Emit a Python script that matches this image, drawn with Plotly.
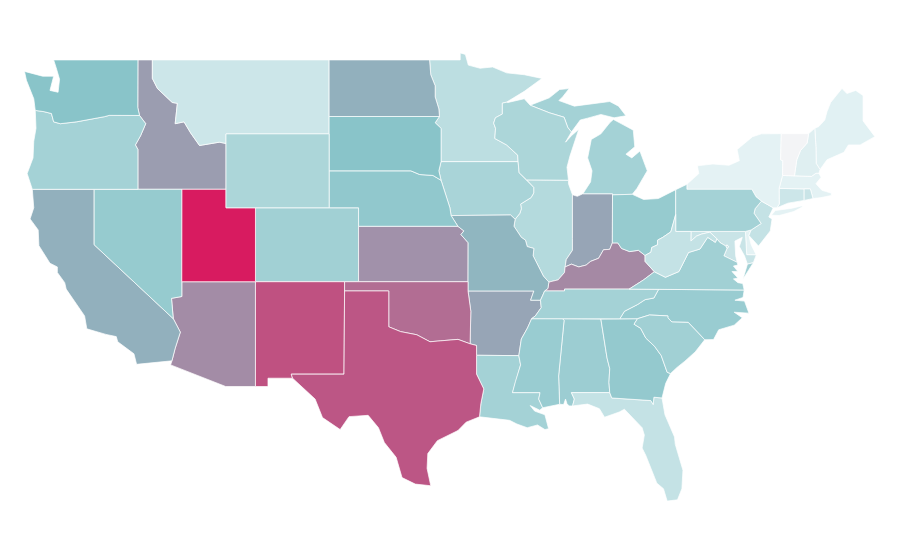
import plotly.graph_objects as go
from plotly.colors import sample_colorscale

states = ['AL','AZ','AR','CA','CO','CT','DE','DC','FL','GA','ID','IL','IN','IA','KS','KY','LA','ME','MD','MA',
          'MI','MN','MS','MO','MT','NE','NV','NH','NJ','NM','NY','NC','ND','OH','OK','OR','PA','RI','SC','SD',
          'TN','TX','UT','VT','VA','WA','WV','WI','WY']
values = [33,60,51,47,31,15,6,16,18,36,54,24,51,28,58,61,30,7,16,6,
          30,21,34,45,15,37,35,8,18,81,6,34,47,35,71,30,30,16,31,40,
          30,79,100,0,31,40,18,27,27]

colorscale = [[0, '#f3f4f6'], [0.06, '#e4f2f4'], [0.4, '#89c4c9'], [1, '#d81b60']]

# bordes compartidos (lon, lat), de norte a sur o de oeste a este
mn_wi = [(-92.02,46.71),(-92.29,46.66),(-92.29,46.07),(-92.76,45.87),(-92.88,45.58),(-92.75,45.3),(-92.8,44.75),(-92.0,44.4),(-91.25,43.85),(-91.22,43.5)]
ia_wi = [(-91.22,43.5),(-91.15,42.9),(-90.64,42.51)]
ia_il = [(-90.64,42.51),(-90.16,42.1),(-90.16,41.8),(-90.34,41.55),(-91.05,41.2),(-91.0,40.95),(-91.1,40.7),(-91.42,40.38)]
mo_il = [(-91.42,40.38),(-91.5,40.0),(-91.0,39.4),(-90.72,39.25),(-90.6,38.9),(-90.15,38.8),(-90.2,38.4),(-89.9,37.95),(-89.5,37.3),(-89.13,36.98)]
mo_ky = [(-89.13,36.98),(-89.2,36.63),(-89.42,36.5)]
mo_tn = [(-89.42,36.5),(-89.55,36.25),(-89.7,36.0)]
ar_tn = [(-89.7,36.0),(-89.65,35.6),(-90.05,35.15),(-90.3,35.0)]
ar_ms = [(-90.3,35.0),(-90.58,34.5),(-91.0,33.9),(-91.17,33.0)]
la_ms = [(-91.17,33.0),(-91.05,32.5),(-91.4,31.6),(-91.6,31.0),(-89.73,31.0),(-89.82,30.65),(-89.55,30.18)]
il_ky = [(-89.13,36.98),(-88.5,37.1),(-88.07,37.5),(-88.03,37.8)]
in_ky = [(-88.03,37.8),(-87.6,37.95),(-87.1,37.8),(-86.6,37.9),(-86.3,38.1),(-85.75,38.27),(-85.42,38.73),(-85.0,38.75),(-84.82,39.1)]
oh_ky = [(-84.82,39.1),(-84.45,39.1),(-84.2,38.8),(-83.65,38.63),(-83.05,38.7),(-82.6,38.42)]
oh_wv = [(-82.6,38.42),(-82.2,38.6),(-82.15,38.85),(-81.75,39.0),(-81.75,39.25),(-81.4,39.4),(-80.85,39.7),(-80.65,40.2),(-80.52,40.64)]
il_in = [(-88.03,37.8),(-87.95,38.2),(-87.53,38.7),(-87.53,39.35),(-87.53,41.71)]
ky_wv = [(-82.6,38.42),(-82.6,38.1),(-81.97,37.54)]
ky_va = [(-81.97,37.54),(-82.7,37.1),(-83.68,36.6)]
ky_tn = [(-83.68,36.6),(-88.07,36.6),(-88.07,36.5),(-89.42,36.5)]
va_tn = [(-83.68,36.6),(-81.68,36.59)]
va_nc = [(-81.68,36.59),(-75.87,36.55)]
tn_nc = [(-81.68,36.59),(-82.0,36.12),(-82.6,36.03),(-83.1,35.77),(-84.0,35.4),(-84.32,34.99)]
tn_ga = [(-84.32,34.99),(-85.6,34.98)]
tn_al = [(-85.6,34.98),(-88.2,35.0)]
tn_ms = [(-88.2,35.0),(-90.3,35.0)]
ga_nc = [(-84.32,34.99),(-83.11,35.0)]
nc_sc = [(-83.11,35.0),(-82.3,35.2),(-81.05,35.15),(-81.05,35.05),(-80.78,34.82),(-79.67,34.8),(-78.55,33.86)]
ga_sc = [(-83.11,35.0),(-83.35,34.7),(-82.9,34.48),(-82.55,33.95),(-81.95,33.5),(-81.5,33.0),(-81.1,32.1),(-80.87,32.03)]
ga_al = [(-85.6,34.98),(-85.18,32.87),(-85.0,32.3),(-85.05,31.55),(-85.0,31.0)]
ga_fl = [(-85.0,31.0),(-84.86,30.71),(-82.21,30.57),(-82.05,30.36),(-82.0,30.75),(-81.45,30.71)]
al_fl = [(-85.0,31.0),(-87.6,31.0),(-87.4,30.65),(-87.52,30.28)]
al_ms = [(-88.2,35.0),(-88.1,34.9),(-88.47,31.9),(-88.4,30.37)]
ar_mo = [(-89.7,36.0),(-90.37,36.0),(-90.15,36.5),(-94.62,36.5)]
ar_ok = [(-94.62,36.5),(-94.43,35.4),(-94.48,33.64)]
ar_tx = [(-94.48,33.64),(-94.04,33.55),(-94.04,33.02)]
ar_la = [(-94.04,33.02),(-91.17,33.0)]
la_tx = [(-94.04,33.02),(-94.04,32.0),(-93.55,31.2),(-93.75,30.4),(-93.84,29.69)]
ok_tx = [(-103.0,36.5),(-100.0,36.5),(-100.0,34.56),(-99.2,34.3),(-98.1,34.13),(-97.2,33.75),(-96.5,33.8),(-95.3,33.88),(-94.48,33.64)]
ok_mo = [(-94.62,37.0),(-94.62,36.5)]
ks_mo = [(-95.31,40.0),(-94.9,39.75),(-95.1,39.55),(-94.61,39.11),(-94.62,37.0)]
ne_mo = [(-95.31,40.0),(-95.77,40.58)]
ia_ne = [(-95.77,40.58),(-95.85,41.0),(-96.1,41.6),(-96.45,42.49)]
ia_sd = [(-96.45,42.49),(-96.6,43.0),(-96.45,43.5)]
ia_mn = [(-96.45,43.5),(-91.22,43.5)]
ia_mo = [(-95.77,40.58),(-91.73,40.61),(-91.42,40.38)]
mn_sd = [(-96.45,43.5),(-96.45,45.3),(-96.85,45.6),(-96.56,45.94)]
mn_nd = [(-96.56,45.94),(-96.6,46.35),(-96.85,47.0),(-96.85,47.6),(-97.15,48.2),(-97.23,49.0)]
ne_sd = [(-96.45,42.49),(-97.0,42.75),(-97.9,42.8),(-98.5,43.0),(-104.05,43.0)]
rio_grande = [(-106.53,31.78),(-106.0,31.4),(-105.0,30.65),(-104.5,29.65),(-103.3,29.0),(-102.7,29.7),(-101.4,29.77),(-100.7,29.1),(-100.3,28.3),(-99.5,27.5),(-99.1,26.4),(-98.2,26.05),(-97.15,25.96)]
nm_tx = [(-103.0,36.5),(-103.04,32.0),(-106.62,32.0),(-106.53,31.78)]
snake = [(-117.03,42.0),(-117.03,44.15),(-117.2,44.4),(-116.85,44.9),(-116.5,45.55),(-116.92,45.995)]
or_wa = [(-116.92,45.995),(-118.98,46.0),(-119.3,45.93),(-121.2,45.65),(-122.3,45.55),(-122.75,45.65),(-122.9,46.1),(-123.4,46.2),(-124.0,46.27)]
id_mt = [(-116.05,49.0),(-116.05,48.0),(-115.7,47.45),(-114.7,46.7),(-114.35,46.65),(-114.5,45.55),(-113.9,45.65),(-113.45,45.05),(-112.85,44.37),(-111.5,44.55),(-111.05,44.48)]
az_ca = [(-114.63,35.0),(-114.15,34.27),(-114.5,33.4),(-114.72,32.72)]
az_nv = [(-114.05,37.0),(-114.05,36.2),(-114.75,36.1),(-114.63,35.0)]
md_va = [(-76.35,38.05),(-76.95,38.28),(-77.25,38.4),(-77.04,38.79)]
md_va2 = [(-77.12,38.93),(-77.52,39.12),(-77.72,39.32)]
va_wv = [(-77.72,39.32),(-77.83,39.13),(-78.35,39.4),(-78.87,38.77),(-79.65,38.58),(-80.3,37.55),(-81.22,37.24),(-81.97,37.54)]
md_wv = [(-77.72,39.32),(-78.2,39.68),(-78.75,39.58),(-79.1,39.47),(-79.49,39.2),(-79.48,39.72)]
oh_lake = [(-80.52,41.98),(-81.7,41.5),(-82.7,41.45),(-83.47,41.73)]
wi_mi = [(-87.6,45.1),(-87.85,45.35),(-88.1,45.9),(-89.1,46.14),(-90.4,46.55)]
ny_pa = [(-79.76,42.27),(-79.76,42.0),(-75.35,42.0),(-75.07,41.6),(-74.7,41.36)]
nj_pa = [(-74.7,41.36),(-75.13,40.95),(-75.2,40.7),(-74.72,40.15),(-75.4,39.8)]
de_nj = [(-75.4,39.8),(-75.55,39.5)]
ct_ny = [(-73.65,41.0),(-73.49,41.2),(-73.5,42.05)]
ma_vt = [(-73.27,42.75),(-72.46,42.73)]
vt_nh = [(-71.5,45.01),(-71.6,44.5),(-72.05,44.1),(-72.3,43.6),(-72.46,42.73)]
nh_ma = [(-72.46,42.73),(-71.3,42.7),(-71.0,42.87),(-70.8,42.87)]
me_nh = [(-71.08,45.3),(-71.0,44.3),(-70.98,43.4),(-70.72,43.07)]
ny_vt = [(-73.27,42.75),(-73.25,43.55),(-73.4,43.6),(-73.35,45.01)]


def ring(*parts):
    # une varios tramos de borde en un solo contorno
    pts = []
    for p in parts:
        pts += p
    return pts


def rev(seg):
    return seg[::-1]


outlines = {
    'WA': [ring([(-122.75,49.0),(-117.03,49.0),(-117.04,46.42)], or_wa, [(-124.1,46.9),(-124.6,47.9),(-124.73,48.38),(-123.5,48.12),(-122.75,48.12),(-123.0,47.35),(-122.45,47.25),(-122.35,47.95),(-122.55,48.5)])],
    'OR': [ring([(-124.2,42.0)], snake, or_wa, [(-123.95,45.3),(-124.1,44.6),(-124.15,43.7),(-124.55,42.85)])],
    'CA': [ring([(-124.2,42.0),(-120.0,42.0),(-120.0,39.0)], az_ca, [(-117.12,32.53),(-117.3,33.1),(-118.4,33.75),(-118.5,34.03),(-119.2,34.15),(-120.5,34.45),(-120.65,35.15),(-121.9,36.6),(-122.0,36.95),(-122.5,37.5),(-122.5,37.8),(-123.0,38.0),(-123.75,38.95),(-123.8,39.8),(-124.35,40.4),(-124.1,41.0)])],
    'NV': [ring([(-120.0,42.0),(-114.04,42.0)], az_nv, [(-120.0,39.0)])],
    'ID': [ring([(-117.03,49.0)], id_mt, [(-111.05,42.0)], snake, [(-117.04,46.42)])],
    'MT': [ring(id_mt, [(-111.05,45.0),(-104.05,45.0),(-104.05,49.0)])],
    'WY': [[(-111.05,45.0),(-104.05,45.0),(-104.05,41.0),(-111.05,41.0)]],
    'UT': [ring([(-114.04,42.0),(-111.05,42.0),(-111.05,41.0),(-109.05,41.0),(-109.05,37.0)], [(-114.05,37.0)])],
    'CO': [[(-109.05,41.0),(-102.05,41.0),(-102.05,37.0),(-109.05,37.0)]],
    'AZ': [ring([(-109.05,37.0),(-109.05,31.33),(-111.07,31.33),(-114.81,32.5)], rev(az_ca), rev(az_nv))],
    'NM': [ring([(-109.05,37.0),(-103.0,37.0)], nm_tx, [(-108.2,31.78),(-108.2,31.33),(-109.05,31.33)])],
    'ND': [ring([(-104.05,49.0),(-97.23,49.0)], rev(mn_nd), [(-104.05,45.94)])],
    'SD': [ring([(-104.05,45.94)], rev(mn_sd), rev(ia_sd), ne_sd, [(-104.05,45.0)])],
    'NE': [ring(ne_sd, [(-104.05,41.0),(-102.05,41.0),(-102.05,40.0)], ne_mo, ia_ne)],
    'KS': [ring([(-102.05,40.0)], ks_mo, [(-102.05,37.0)])],
    'OK': [ring([(-103.0,37.0)], ok_mo, ar_ok, rev(ok_tx))],
    'TX': [ring(ok_tx, ar_tx, la_tx, [(-94.75,29.4),(-95.3,28.95),(-96.7,28.4),(-97.35,27.7),(-97.4,26.9)], rev(rio_grande), rev(nm_tx))],
    'MN': [ring([(-97.23,49.0),(-95.15,49.0),(-95.15,49.38),(-94.8,49.3),(-94.6,48.72),(-93.8,48.55),(-92.95,48.62),(-92.0,48.3),(-90.8,48.2),(-89.6,48.0),(-90.8,47.3)], mn_wi, rev(ia_mn), mn_sd, mn_nd)],
    'IA': [ring(ia_mn, ia_wi, ia_il, rev(ia_mo), ia_ne, ia_sd)],
    'MO': [ring(ia_mo, mo_il, mo_ky, mo_tn, ar_mo, rev(ok_mo), rev(ks_mo), ne_mo)],
    'AR': [ring(ar_mo, ar_ok, ar_tx, ar_la, rev(ar_ms), rev(ar_tn))],
    'LA': [ring(ar_la, la_ms, [(-89.75,30.05),(-90.4,30.3),(-90.1,30.0),(-89.4,29.8),(-89.15,29.05),(-89.4,29.0),(-89.9,29.25),(-90.6,29.1),(-91.3,29.3),(-91.8,29.5),(-92.6,29.58)], rev(la_tx))],
    'WI': [ring([(-87.8,42.49),(-87.9,43.2),(-87.7,43.8),(-87.3,44.8),(-87.1,45.25),(-87.6,44.9),(-88.0,44.55)], wi_mi, [(-90.8,46.9),(-91.9,46.7)], mn_wi, ia_wi)],
    'IL': [ring([(-87.8,42.49),(-87.8,42.3)], rev(il_in), rev(il_ky), rev(mo_il), rev(ia_il))],
    'IN': [ring([(-86.82,41.76),(-84.81,41.76),(-84.81,41.7),(-84.82,39.1)], rev(in_ky), il_in, [(-87.2,41.62)])],
    'OH': [ring(oh_lake, [(-84.81,41.7),(-84.82,39.1)], oh_ky, oh_wv)],
    'KY': [ring(il_ky, in_ky, oh_ky, ky_wv, ky_va, ky_tn, rev(mo_ky))],
    'TN': [ring(ky_tn, mo_tn, ar_tn, rev(tn_ms), rev(tn_al), rev(tn_ga), rev(tn_nc), rev(va_tn))],
    'MS': [ring(tn_ms, ar_ms, la_ms, [(-88.4,30.37)], rev(al_ms))],
    'AL': [ring(tn_al, al_ms, [(-88.13,30.35),(-88.0,30.65),(-87.9,30.4),(-87.75,30.28)], rev(al_fl), rev(ga_al))],
    'GA': [ring(tn_ga, ga_al, ga_fl, [(-81.2,31.5)], rev(ga_sc), rev(ga_nc))],
    'FL': [ring(al_fl, [(-86.5,30.38),(-85.7,30.13),(-85.35,29.67),(-84.35,29.95),(-84.0,30.1),(-83.4,29.6),(-82.8,29.1),(-82.65,28.7),(-82.8,28.0),(-82.55,27.6),(-82.1,26.7),(-81.8,26.1),(-81.35,25.8),(-81.1,25.13),(-80.4,25.2),(-80.1,25.8),(-80.03,26.8),(-80.55,28.2),(-80.6,28.6),(-81.25,29.8)], rev(ga_fl))],
    'SC': [ring(nc_sc, [(-79.2,33.2),(-79.9,32.7),(-80.45,32.35)], rev(ga_sc))],
    'NC': [ring(va_nc, [(-75.95,36.15),(-76.5,36.0),(-75.85,35.95),(-75.55,35.3),(-76.55,35.35),(-76.0,35.05),(-76.55,34.65),(-77.6,34.4),(-77.95,33.87)], rev(nc_sc), rev(ga_nc), rev(tn_nc))],
    'VA': [ring(va_tn, va_nc, [(-75.97,36.9),(-76.3,36.95),(-76.6,37.15),(-76.3,37.2),(-76.7,37.55),(-76.3,37.55),(-76.6,37.85),(-76.3,37.9)], md_va, md_va2, va_wv, ky_va),
           [(-75.65,37.95),(-75.25,38.03),(-75.95,37.15)]],
    'WV': [ring(oh_wv, [(-80.52,39.72),(-79.48,39.72)], rev(md_wv), va_wv, rev(ky_wv))],
    'PA': [ring([(-80.52,41.98)], ny_pa, nj_pa, [(-75.79,39.72),(-80.52,39.72),(-80.52,40.64)])],
    'NY': [ring(ny_pa, [(-73.9,41.0)], ct_ny, [(-73.27,42.75)], ny_vt[1:], [(-74.7,45.0),(-75.3,44.85),(-76.35,44.15),(-76.2,43.55),(-76.9,43.3),(-78.0,43.37),(-79.05,43.27),(-78.95,42.85)]),
           [(-74.03,40.6),(-73.75,40.85),(-72.6,40.98),(-72.0,41.1),(-71.87,41.07),(-72.5,40.8),(-73.5,40.58),(-74.0,40.58)]],
    'NJ': [ring([(-74.7,41.36),(-73.9,41.0),(-74.2,40.5),(-73.98,40.4),(-74.1,39.75),(-74.9,38.93)], rev(de_nj), rev(nj_pa))],
    'DE': [ring([(-75.79,39.72)], de_nj, [(-75.4,39.0),(-75.05,38.45),(-75.7,38.46)])],
    'MD': [ring([(-79.48,39.72),(-75.79,39.72),(-75.7,38.46),(-75.05,38.45),(-75.25,38.03),(-75.65,37.95),(-75.85,38.4),(-76.2,38.9),(-76.0,39.4),(-76.5,39.2),(-76.45,38.4)], md_va, [(-76.91,38.89),(-77.04,39.0)], md_va2, md_wv[1:-1])],
    'DC': [[(-77.12,38.93),(-77.04,39.0),(-76.91,38.89),(-77.04,38.79)]],
    'CT': [ring(ct_ny, [(-71.8,42.02),(-71.8,41.4),(-72.9,41.25)])],
    'RI': [[(-71.8,42.02),(-71.38,42.02),(-71.2,41.5),(-71.8,41.4)]],
    'MA': [ring([(-73.5,42.05),(-73.27,42.75)], ma_vt[1:], nh_ma[1:], [(-70.65,42.65),(-71.0,42.3),(-70.6,41.95),(-70.0,41.8),(-70.0,42.05),(-69.95,41.67),(-70.65,41.55),(-71.12,41.5),(-71.2,41.5),(-71.38,42.02),(-71.8,42.02)])],
    'VT': [ring(ny_vt, vt_nh, rev(ma_vt))],
    'NH': [ring(vt_nh, nh_ma, rev(me_nh))],
    'ME': [ring(me_nh, [(-70.25,43.6),(-69.8,43.75),(-69.1,44.0),(-68.8,44.4),(-68.0,44.4),(-67.0,44.85),(-67.45,45.3),(-67.8,45.7),(-67.8,47.07),(-68.3,47.35),(-68.9,47.18),(-69.23,47.46),(-70.0,46.7),(-70.25,46.2),(-70.4,45.75),(-70.8,45.4)])],
    'MI': [ring(wi_mi, [(-89.1,46.95),(-88.4,47.4),(-87.75,47.45),(-88.2,47.0),(-88.45,46.8),(-87.4,46.5),(-86.1,46.65),(-85.0,46.75),(-84.4,46.5),(-84.1,46.2),(-83.9,45.98),(-84.7,45.87),(-85.6,46.05),(-86.5,45.85),(-87.0,45.75)]),
           [(-86.82,41.76),(-86.3,42.4),(-86.2,43.0),(-86.5,43.7),(-86.25,44.7),(-85.6,45.0),(-85.0,45.6),(-84.75,45.78),(-84.1,45.5),(-83.4,45.2),(-83.3,44.3),(-83.9,43.9),(-83.5,43.7),(-82.95,44.07),(-82.45,43.0),(-82.9,42.4),(-83.15,42.05),(-83.47,41.73),(-84.81,41.7),(-84.81,41.76)]],
}

fig = go.Figure()
for st, v in zip(states, values):
    lons, lats = [], []
    for r in outlines[st]:
        lons += [p[0] for p in r] + [r[0][0], None]
        lats += [p[1] for p in r] + [r[0][1], None]
    fig.add_trace(go.Scatter(
        x=lons,
        y=lats,
        mode='lines',
        fill='toself',
        fillcolor=sample_colorscale(colorscale, v / 100)[0],
        line=dict(color='white', width=0.7),
        name=st,
        hoverinfo='name',
        showlegend=False,
    ))

# la pagina deja 8 px de margen, por eso el rango va desplazado
fig.update_xaxes(visible=False, range=[-125.85, -64.75])
fig.update_yaxes(visible=False, range=[21.51, 51.81])
fig.update_layout(
    width=900,
    height=560,
    margin=dict(l=0, r=0, t=0, b=0),
    paper_bgcolor='white',
    plot_bgcolor='white',
)
fig.write_html("out.html")
